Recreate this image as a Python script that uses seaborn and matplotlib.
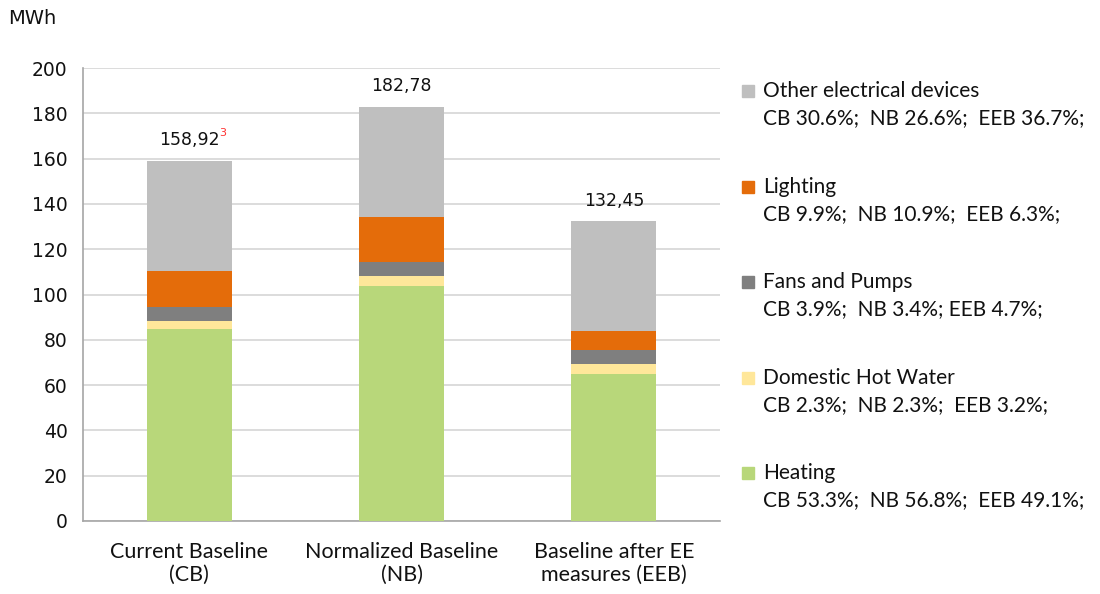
import seaborn as sns
import pandas as pd
import matplotlib.pyplot as plt
from matplotlib.patches import Rectangle

# Data (MWh)
categories = ["Current Baseline\n(CB)", "Normalized Baseline\n(NB)", "Baseline after EE\nmeasures (EEB)"]
heating = [84.7, 103.8, 65.0]
hot_water = [3.7, 4.2, 4.2]
fans_pumps = [6.2, 6.2, 6.2]
lighting = [15.7, 19.9, 8.3]
other = [48.6, 48.6, 48.6]
total_labels = ["158,92", "182,78", "132,45"]

series_names = ["Heating", "Domestic Hot Water", "Fans and Pumps", "Lighting", "Other electrical devices"]
series_values = [heating, hot_water, fans_pumps, lighting, other]
series_colors = ["#B8D77A", "#FFE79A", "#7F7F7F", "#E46C0A", "#BFBFBF"]
share_text = {
    "Other electrical devices": "CB 30.6%;  NB 26.6%;  EEB 36.7%;",
    "Lighting": "CB 9.9%;  NB 10.9%;  EEB 6.3%;",
    "Fans and Pumps": "CB 3.9%;  NB 3.4%; EEB 4.7%;",
    "Domestic Hot Water": "CB 2.3%;  NB 2.3%;  EEB 3.2%;",
    "Heating": "CB 53.3%;  NB 56.8%;  EEB 49.1%;",
}

# cumulative tops for stacking
df = pd.DataFrame({"category": categories})
running = [0.0] * len(categories)
for name, vals in zip(series_names, series_values):
    running = [r + v for r, v in zip(running, vals)]
    df[name] = running

sns.set_style("white")
W, H = 1100, 594
fig = plt.figure(figsize=(11, 5.94), dpi=100)
ax = fig.add_axes([83 / W, 1 - 521 / H, (720 - 83) / W, (521 - 68) / H])

# draw from top layer down so each cumulative bar sits behind the next
for name, color in reversed(list(zip(series_names, series_colors))):
    sns.barplot(data=df, x="category", y=name, color=color, saturation=1,
                width=0.4, linewidth=0, ax=ax, zorder=3)

ax.set_ylim(0, 200)
ax.set_xlim(-0.5, 2.5)
ax.set_yticks(range(0, 201, 20))
ax.yaxis.grid(True, color="#D9D9D9", linewidth=1.3, zorder=0)
ax.set_axisbelow(True)
ax.set_xlabel("")
ax.set_ylabel("")
for s in ["top", "right"]:
    ax.spines[s].set_visible(False)
for s in ["left", "bottom"]:
    ax.spines[s].set_color("#A6A6A6")
    ax.spines[s].set_linewidth(1.2)

ax.tick_params(axis="y", which="major", length=6, width=1.2, color="#A6A6A6",
               labelsize=13.5, pad=5, labelcolor="#111111")
for lbl in ax.get_yticklabels():
    lbl.set_family("DejaVu Sans")
ax.tick_params(axis="x", which="major", length=0, pad=15, labelcolor="#111111")
ax.set_xticks([-0.5, 0.5, 1.5, 2.5], minor=True)
ax.tick_params(axis="x", which="minor", length=7, width=1.2, color="#A6A6A6")
ax.set_xticklabels(categories, fontsize=15.5, family="Lato", linespacing=1.2)

# totals above bars
totals = df[series_names[-1]].tolist()
for i, (tot, lab) in enumerate(zip(totals, total_labels)):
    t = ax.annotate(lab, xy=(i, tot), xytext=(0, 15), textcoords="offset points",
                    ha="center", va="center", fontsize=12.5, family="DejaVu Sans",
                    color="#111111")
    if i == 0:
        ax.annotate("3", xy=(1, 1), xycoords=t, xytext=(0, 2), textcoords="offset points",
                    ha="left", va="top", fontsize=8, color="#FF3030", family="DejaVu Sans")

fig.text(8 / W, 1 - 18 / H, "MWh", fontsize=14, family="DejaVu Sans", va="center",
         color="#111111")

# legend drawn by hand (two-line entries)
ys = [91, 187, 282, 378, 473]
for y, name in zip(ys, reversed(series_names)):
    color = series_colors[series_names.index(name)]
    fig.patches.append(Rectangle((742 / W, 1 - (y + 6) / H), 12 / W, 12 / H,
                                 transform=fig.transFigure, color=color, figure=fig))
    fig.text(763 / W, 1 - y / H, name, fontsize=15, family="Lato", va="center",
             color="#111111")
    fig.text(763 / W, 1 - (y + 27) / H, share_text[name], fontsize=15, family="Lato",
             va="center", color="#111111")

fig.savefig("out.png", dpi=100)
